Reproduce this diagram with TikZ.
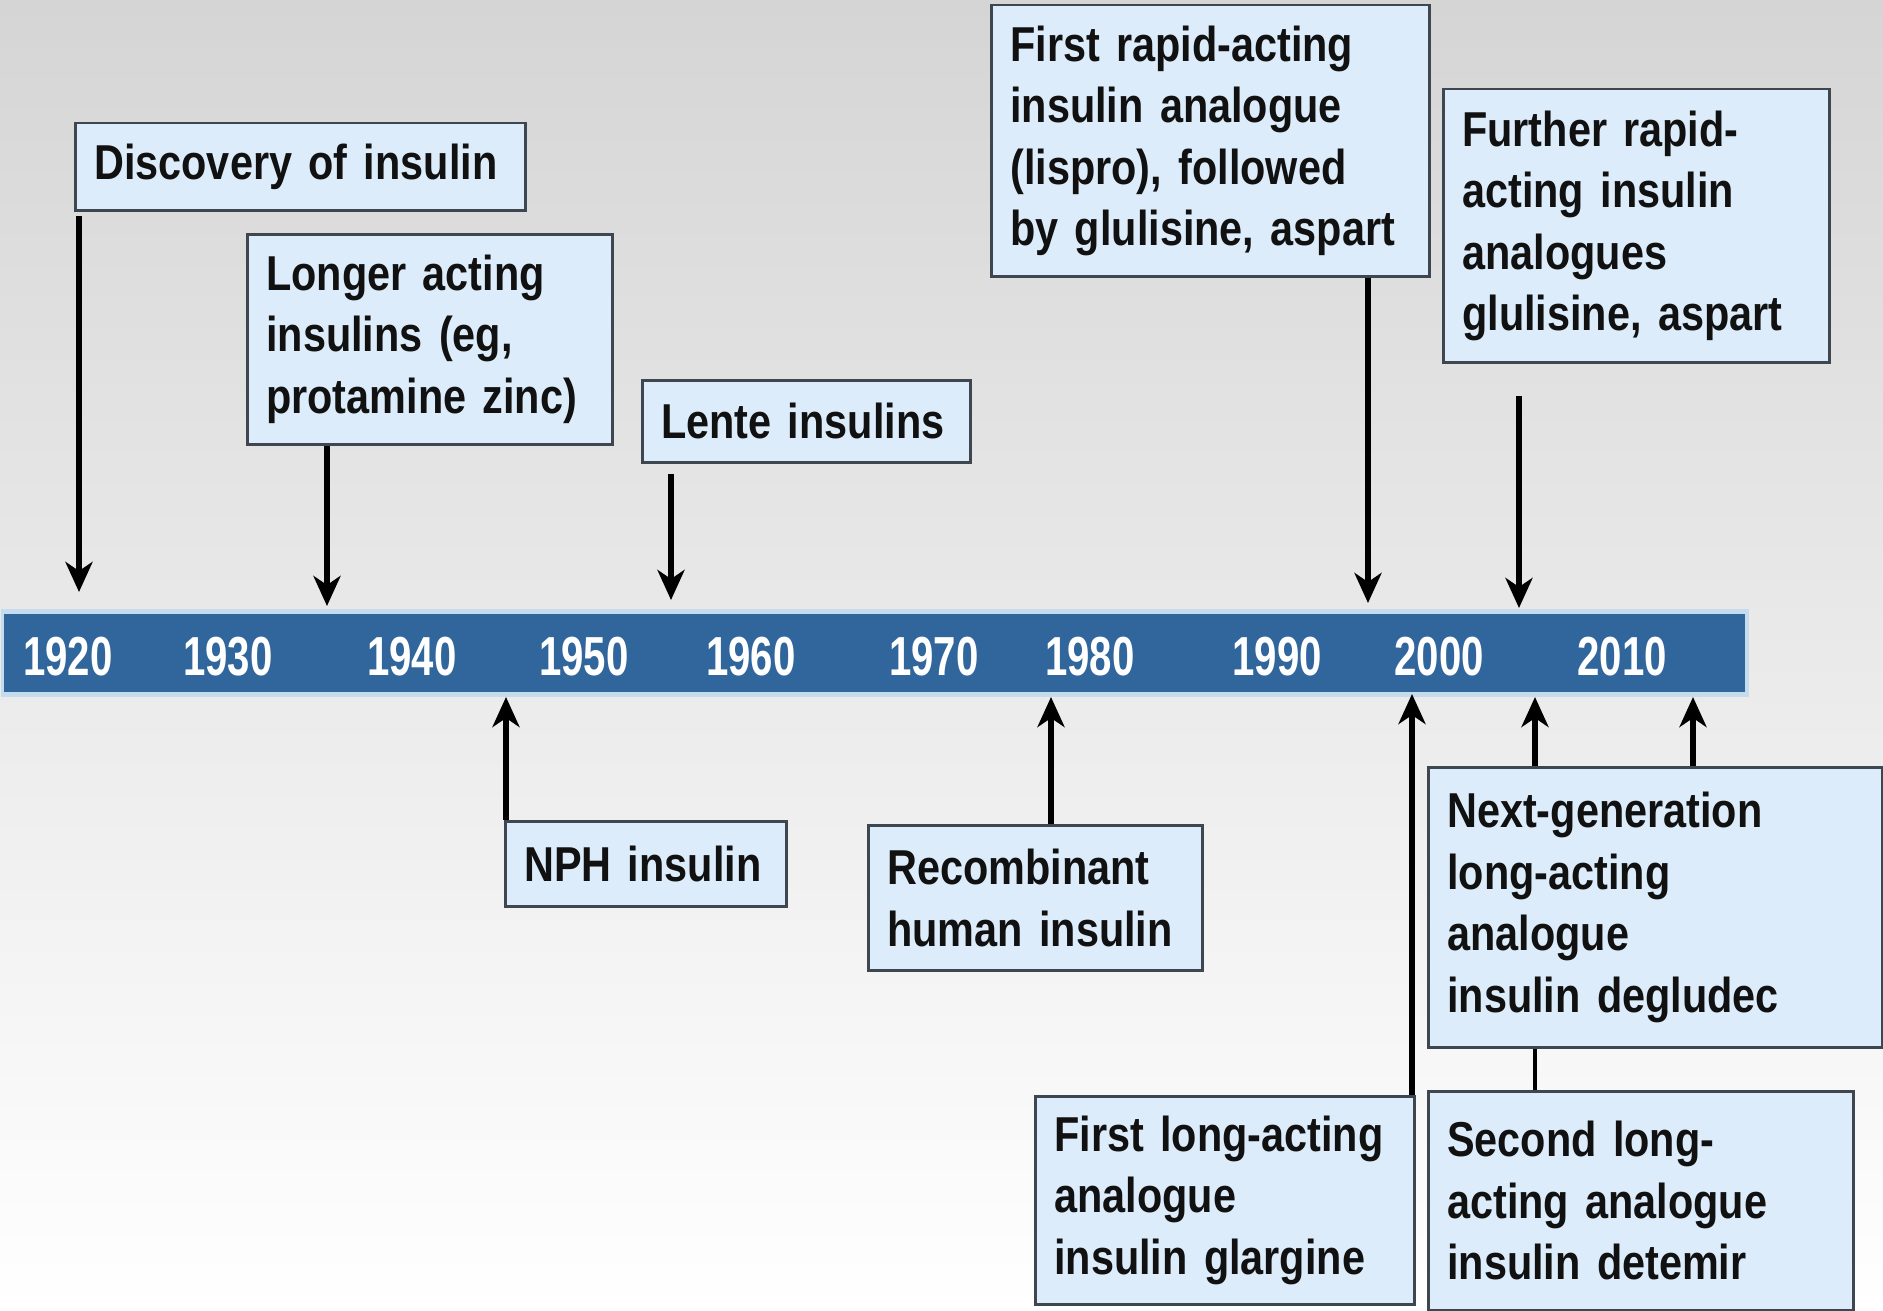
\documentclass[tikz,border=0pt]{standalone}
\usepackage{fontspec}
\setmainfont{Liberation Sans}
\newfontfamily\boxfont{Liberation Sans Bold}[FakeStretch=0.845]
\newfontfamily\yearfont{Liberation Sans Bold}[FakeStretch=0.73]
\usetikzlibrary{arrows.meta}
\definecolor{boxfill}{HTML}{DCECFA}
\definecolor{boxline}{HTML}{3E474F}
\definecolor{barblue}{HTML}{30669C}
\definecolor{baredge}{HTML}{C4DCEE}
\definecolor{bgtop}{HTML}{D5D5D5}
\definecolor{txt}{HTML}{111111}
\begin{document}
\begin{tikzpicture}[x=1pt,y=-1pt,
  evbox/.style={draw=boxline, line width=2.5pt, fill=boxfill, anchor=north west,
    inner xsep=19pt, inner ysep=0pt, align=left, text=txt,
    font=\boxfont\fontsize{49}{61.5}\selectfont},
  yr/.style={text=white, font=\yearfont\fontsize{55}{55}\selectfont, inner sep=0pt},
  arr/.style={line width=5.5pt, draw=black, -{Stealth[width=27pt,length=30pt,inset=9pt]}},
  link/.style={line width=4.5pt, draw=black}]
\useasboundingbox (0,0) rectangle (1883,1311);
\fill[top color=bgtop, bottom color=white] (0,0) rectangle (1883,1311);

% timeline bar
\fill[baredge] (1,609) rectangle (1749,697);
\fill[barblue] (4,614) rectangle (1745,692);

\node[yr] (y1920) at (68,657) {1920};
\node[yr] (y1930) at (228,657) {1930};
\node[yr] (y1940) at (412,657) {1940};
\node[yr] (y1950) at (584,657) {1950};
\node[yr] (y1960) at (751,657) {1960};
\node[yr] (y1970) at (934,657) {1970};
\node[yr] (y1980) at (1090,657) {1980};
\node[yr] (y1990) at (1277,657) {1990};
\node[yr] (y2000) at (1439,657) {2000};
\node[yr] (y2010) at (1622,657) {2010};

% boxes above
\node[evbox, text width=412pt, minimum height=87pt] (disc) at (74,122) {Discovery of insulin};
\node[evbox, text width=327pt, minimum height=210pt] (longer) at (246,233) {Longer acting\\insulins (eg,\\protamine zinc)};
\node[evbox, text width=290pt, minimum height=82pt] (lente) at (641,379) {Lente insulins};
\node[evbox, text width=400pt, minimum height=271pt] (rapid) at (990,4) {First rapid-acting\\insulin analogue\\(lispro), followed\\by glulisine, aspart};
\node[evbox, text width=348pt, minimum height=273pt] (further) at (1442,88) {Further rapid-\\acting insulin\\analogues\\glulisine, aspart};

% boxes below
\node[evbox, text width=243pt, minimum height=85pt] (nph) at (504,820) {NPH insulin};
\node[evbox, text width=296pt, minimum height=145pt] (recomb) at (867,824) {Recombinant\\human insulin};
\node[evbox, text width=341pt, minimum height=208pt] (firstlong) at (1034,1095) {First long-acting\\analogue\\insulin glargine};
\node[evbox, text width=416pt, minimum height=280pt] (nextgen) at (1427,766) {Next-generation\\long-acting\\analogue\\insulin degludec};
\node[evbox, text width=387pt, minimum height=219pt] (second) at (1427,1090) {Second long-\\acting analogue\\insulin detemir};

% arrow end points on the bar
\coordinate (tDisc) at (79,592);
\coordinate (sDisc) at (79,216);
\coordinate (tLonger) at (327,606);
\coordinate (tLente) at (671,600);
\coordinate (sLente) at (671,474);
\coordinate (tRapid) at (1368,603);
\coordinate (tFurther) at (1519,608);
\coordinate (sFurther) at (1519,396);
\coordinate (tNPH) at (506,697);
\coordinate (tRecomb) at (1051,697);
\coordinate (tFL) at (1412,694);
\coordinate (tNG1) at (1535,697);
\coordinate (tNG2) at (1693,697);

\draw[arr] (sDisc) -- (tDisc);
\draw[arr] (longer.south -| tLonger) -- (tLonger);
\draw[arr] (sLente) -- (tLente);
\draw[arr] (rapid.south -| tRapid) -- (tRapid);
\draw[arr] (sFurther) -- (tFurther);

\draw[arr] (nph.north -| tNPH) -- (tNPH);
\draw[arr] (recomb.north -| tRecomb) -- (tRecomb);
\draw[arr] (firstlong.north -| tFL) -- (tFL);
\draw[arr] (nextgen.north -| tNG1) -- (tNG1);
\draw[arr] (nextgen.north -| tNG2) -- (tNG2);
\draw[link] (second.north -| tNG1) -- (nextgen.south -| tNG1);
\end{tikzpicture}
\end{document}
